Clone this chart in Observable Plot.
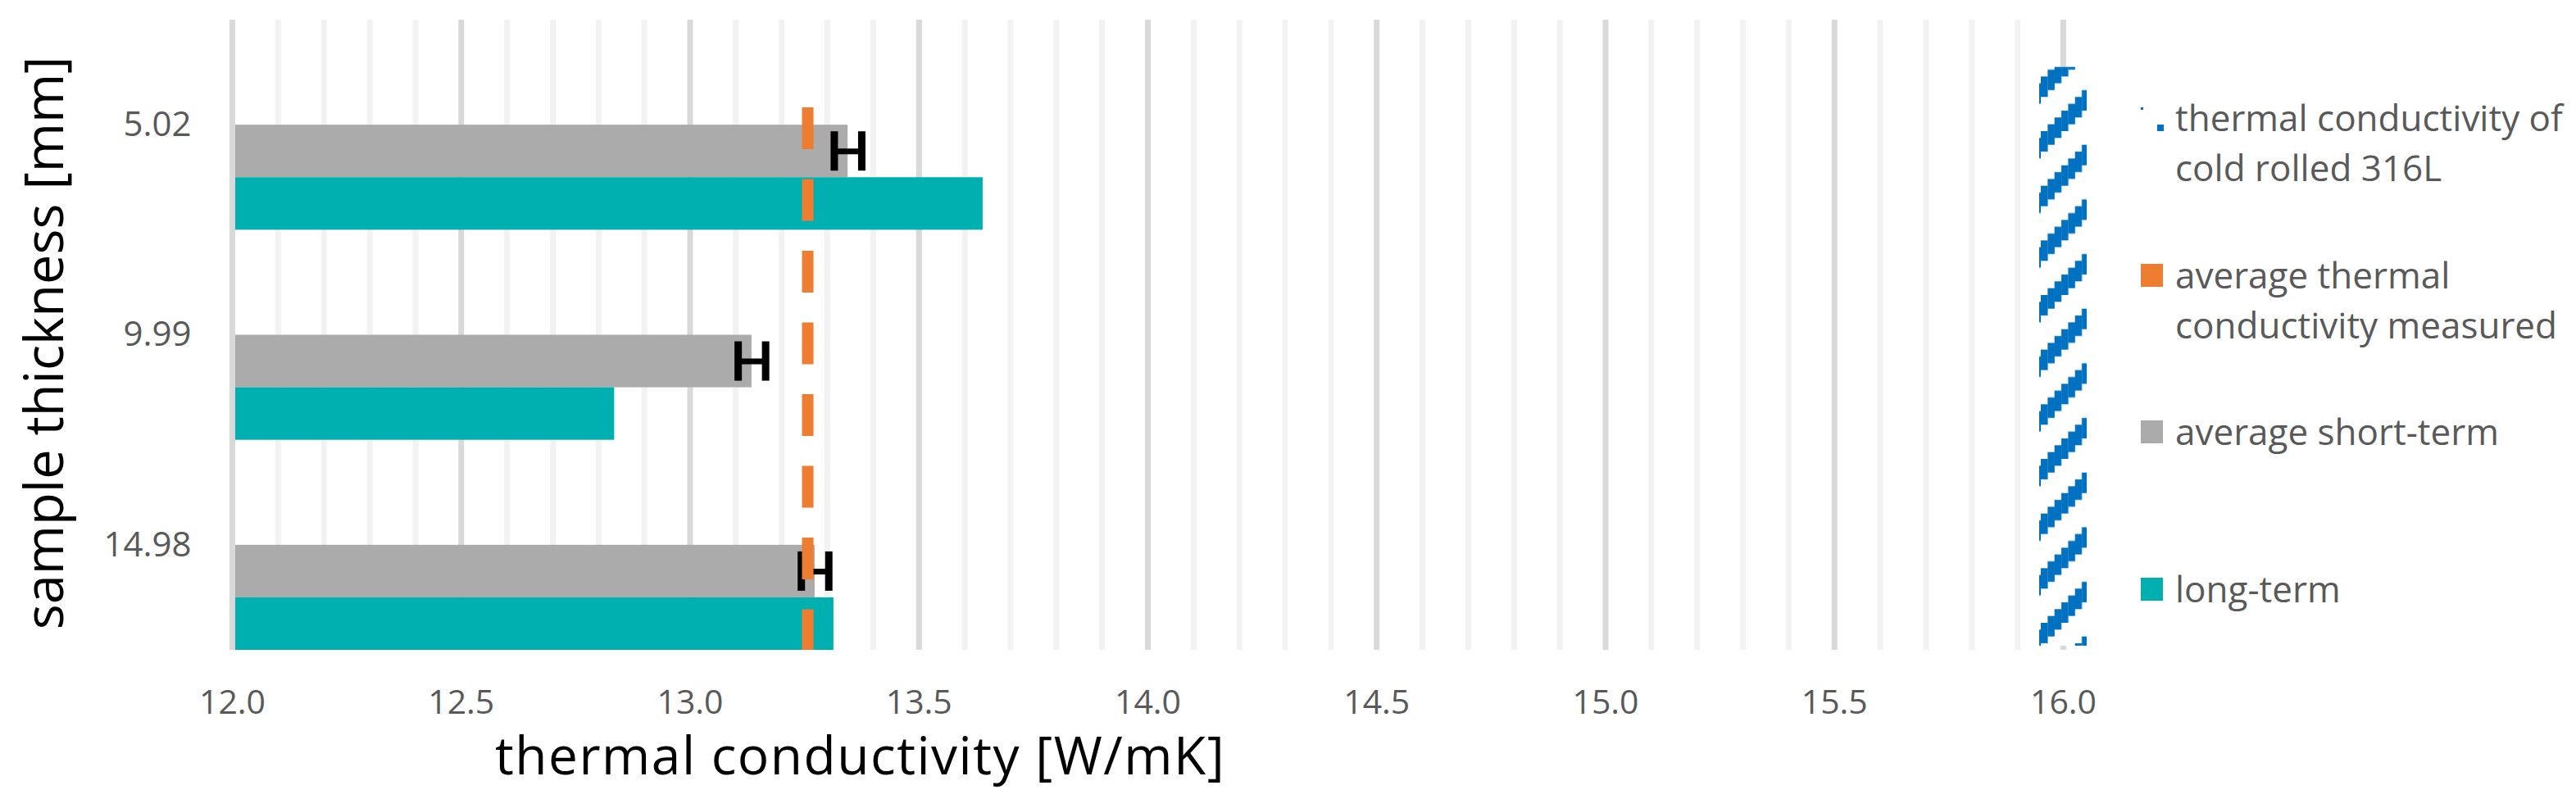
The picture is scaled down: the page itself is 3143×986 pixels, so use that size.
<!DOCTYPE html>
<html>
<head>
<meta charset="utf-8">
<script src="https://cdn.jsdelivr.net/npm/d3@7"></script>
<script src="https://cdn.jsdelivr.net/npm/@observablehq/plot@0.6"></script>
<style>
  html, body { margin: 0; padding: 0; background: #fff; }
  #wrap { position: relative; width: 3143px; height: 986px; overflow: hidden; }
  #wrap > svg { position: absolute; left: 0; top: 0; }
</style>
</head>
<body>
<div id="wrap"></div>
<script>
// ---- data ----
const thickness = ["5.02", "9.99", "14.98"];          // sample thickness [mm] (categories, top to bottom)
const shortTerm = [13.345, 13.135, 13.273];           // average short-term [W/mK]
const shortTermErr = [0.03, 0.03, 0.03];              // error bar half-width [W/mK]
const longTerm = [13.640, 12.835, 13.314];            // long-term [W/mK]
const avgMeasured = 13.257;                           // average thermal conductivity measured
const avgMeasuredSpan = [0.417, 3.0];                 // vertical extent (category units)
const coldRolled = 16.0;                              // thermal conductivity of cold rolled 316L
const coldRolledSpan = [0.225, 2.98];                 // vertical extent (category units)
const xTicks = [12.0, 12.5, 13.0, 13.5, 14.0, 14.5, 15.0, 15.5, 16.0];
const legendLabels = [
  ["thermal conductivity of", "cold rolled 316L"],
  ["average thermal", "conductivity measured"],
  ["average short-term"],
  ["long-term"]
];
const xTitle = "thermal conductivity [W/mK]";
const yTitle = "sample thickness [mm]";

// ---- colours ----
const cGrey = "#ABABAB", cTeal = "#00B0B0", cOrange = "#ED7D31", cBlue = "#0070C0";

const rows = thickness.map((t, i) => ({
  t, i, short: shortTerm[i], err: shortTermErr[i], long: longTerm[i]
}));
const minorTicks = d3.range(120, 161).filter(v => v % 5 !== 0).map(v => v / 10);

const chart = Plot.plot({
  width: 3143,
  height: 986,
  marginLeft: 283,
  marginRight: 626,
  marginTop: 24,
  marginBottom: 193,
  style: {fontFamily: "'Open Sans', sans-serif", fontSize: "42px", color: "#595959", background: "white"},
  x: {domain: [12, 16]},
  y: {domain: [0, 3], reverse: true},
  marks: [
    Plot.ruleX(minorTicks, {stroke: "#F2F2F2", strokeWidth: 7}),
    Plot.ruleX(xTicks.slice(1), {stroke: "#D9D9D9", strokeWidth: 7}),
    // bars
    Plot.rect(rows, {x1: 12, x2: "short", y1: d => d.i + 0.5, y2: d => d.i + 0.75, fill: cGrey}),
    Plot.rect(rows, {x1: 12, x2: "long", y1: d => d.i + 0.75, y2: d => d.i + 1.0, fill: cTeal}),
    // cold rolled reference (hatched)
    Plot.rect([coldRolled], {x1: d => d, x2: d => d, y1: coldRolledSpan[0], y2: coldRolledSpan[1],
      insetLeft: -29, insetRight: -29, fill: "white"}),
    Plot.rect([coldRolled], {x1: d => d, x2: d => d, y1: coldRolledSpan[0], y2: coldRolledSpan[1],
      insetLeft: -29, insetRight: -29, fill: "url(#hatch316)"}),
    // error bars
    Plot.ruleY(rows, {y: d => d.i + 0.625, x1: d => d.short - d.err, x2: d => d.short + d.err,
      stroke: "black", strokeWidth: 7}),
    Plot.ruleX(rows, {x: d => d.short - d.err, y1: d => d.i + 0.625, y2: d => d.i + 0.625,
      insetTop: -24, insetBottom: -24, stroke: "black", strokeWidth: 9}),
    Plot.ruleX(rows, {x: d => d.short + d.err, y1: d => d.i + 0.625, y2: d => d.i + 0.625,
      insetTop: -24, insetBottom: -24, stroke: "black", strokeWidth: 9}),
    // average measured (dashed)
    Plot.ruleX([avgMeasured], {x: d => d, y1: avgMeasuredSpan[0], y2: avgMeasuredSpan[1],
      stroke: cOrange, strokeWidth: 14, strokeDasharray: "51,36.5"}),
    // left axis line
    Plot.ruleX([xTicks[0]], {stroke: "#D9D9D9", strokeWidth: 7}),
    Plot.axisX({ticks: xTicks, tickFormat: d3.format(".1f"), tickSize: 0, tickPadding: 48, label: null, fontSize: 41}),
    Plot.axisY({ticks: thickness.map((d, i) => i + 0.5), tickFormat: d => thickness[Math.round(d - 0.5)],
      tickSize: 0, tickPadding: 50, label: null, fontSize: 42}),
    Plot.text([xTitle], {text: d => d, frameAnchor: "bottom", textAnchor: "middle", dx: -351, dy: 151, fontSize: 64, fill: "black"}),
    Plot.text([yTitle], {text: d => d, frameAnchor: "left", textAnchor: "middle", rotate: -90, dx: -227, dy: 9.5, fontSize: 65, fill: "black"})
  ]
});

// widen the x title slightly (reference font is taller/wider)
d3.select(chart).selectAll("text").filter(function () { return this.textContent === xTitle; })
  .style("letter-spacing", "1.5px");

// hatch pattern definition (stair-stepped diagonal stripes)
const NS = "http://www.w3.org/2000/svg";
const defs = document.createElementNS(NS, "defs");
const pat = document.createElementNS(NS, "pattern");
const cell = 200 / 24, P = cell * 8, thick = cell * 3;
pat.setAttribute("id", "hatch316");
pat.setAttribute("patternUnits", "userSpaceOnUse");
pat.setAttribute("x", 2490);
pat.setAttribute("y", 160);
pat.setAttribute("width", P);
pat.setAttribute("height", P);
for (let k = 0; k < 8; k++) {
  const y0 = ((-k * cell) % P + P) % P;
  const pieces = y0 + thick > P + 0.01 ? [[y0, P - y0], [0, y0 + thick - P]] : [[y0, thick]];
  for (const [yy, hh] of pieces) {
    const r = document.createElementNS(NS, "rect");
    r.setAttribute("x", k * cell);
    r.setAttribute("y", yy);
    r.setAttribute("width", cell + 0.2);
    r.setAttribute("height", hh);
    r.setAttribute("fill", cBlue);
    pat.appendChild(r);
  }
}
defs.appendChild(pat);
chart.insertBefore(defs, chart.firstChild);

const wrap = document.getElementById("wrap");
wrap.appendChild(chart);

// legend (right side)
const leg = d3.select(wrap).append("svg")
  .attr("width", 3143).attr("height", 986)
  .style("pointer-events", "none")
  .style("font-family", "'Open Sans', sans-serif")
  .style("font-size", "44px");
const legBaselines = [160, 352, 543, 735];
const legColors = [null, cOrange, cGrey, cTeal];
legendLabels.forEach((lines, j) => {
  const b = legBaselines[j];
  if (legColors[j]) {
    leg.append("rect").attr("x", 2612).attr("y", b - 30).attr("width", 27).attr("height", 28).attr("fill", legColors[j]);
  } else {
    leg.append("rect").attr("x", 2612).attr("y", 131).attr("width", 3).attr("height", 3).attr("fill", cBlue);
    leg.append("rect").attr("x", 2632).attr("y", 152).attr("width", 8).attr("height", 8).attr("fill", cBlue);
  }
  lines.forEach((line, k) => {
    leg.append("text").attr("x", 2654).attr("y", b + k * 61).attr("fill", "#595959").text(line);
  });
});
</script>
</body>
</html>
